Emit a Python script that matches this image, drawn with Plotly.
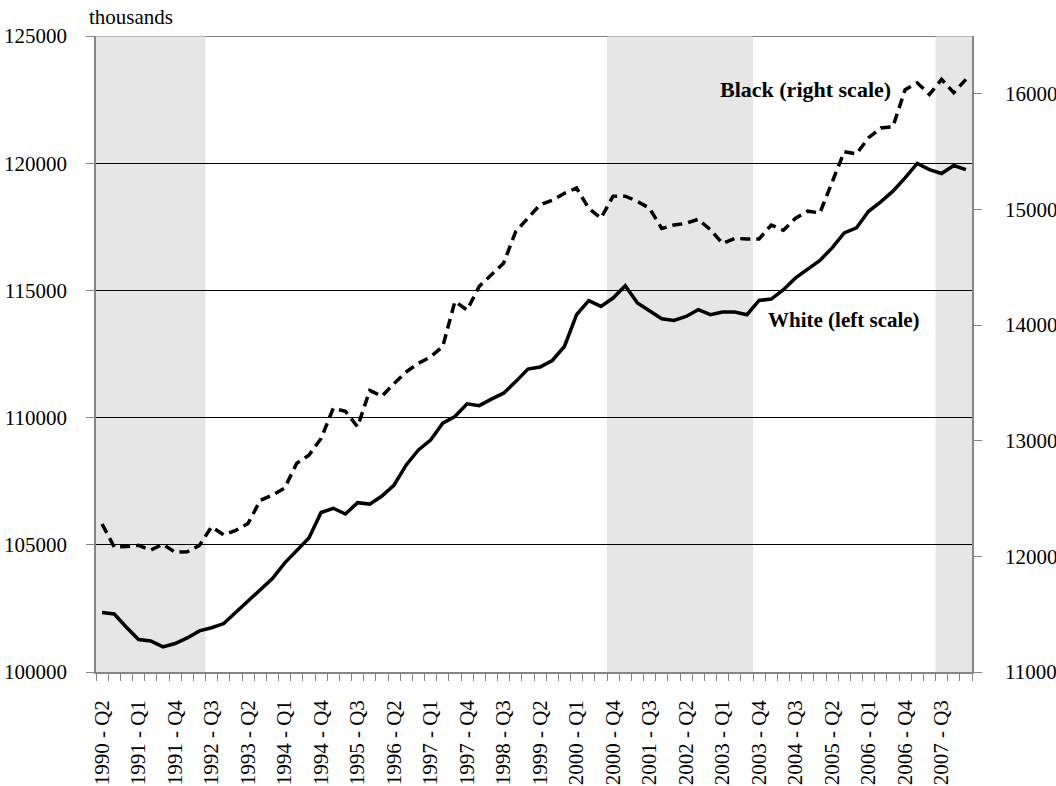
import plotly.graph_objects as go

categories = [
    "1990 - Q2", "1990 - Q3", "1990 - Q4", "1991 - Q1", "1991 - Q2", "1991 - Q3", "1991 - Q4",
    "1992 - Q1", "1992 - Q2", "1992 - Q3", "1992 - Q4", "1993 - Q1", "1993 - Q2", "1993 - Q3",
    "1993 - Q4", "1994 - Q1", "1994 - Q2", "1994 - Q3", "1994 - Q4", "1995 - Q1", "1995 - Q2",
    "1995 - Q3", "1995 - Q4", "1996 - Q1", "1996 - Q2", "1996 - Q3", "1996 - Q4", "1997 - Q1",
    "1997 - Q2", "1997 - Q3", "1997 - Q4", "1998 - Q1", "1998 - Q2", "1998 - Q3", "1998 - Q4",
    "1999 - Q1", "1999 - Q2", "1999 - Q3", "1999 - Q4", "2000 - Q1", "2000 - Q2", "2000 - Q3",
    "2000 - Q4", "2001 - Q1", "2001 - Q2", "2001 - Q3", "2001 - Q4", "2002 - Q1", "2002 - Q2",
    "2002 - Q3", "2002 - Q4", "2003 - Q1", "2003 - Q2", "2003 - Q3", "2003 - Q4", "2004 - Q1",
    "2004 - Q2", "2004 - Q3", "2004 - Q4", "2005 - Q1", "2005 - Q2", "2005 - Q3", "2005 - Q4",
    "2006 - Q1", "2006 - Q2", "2006 - Q3", "2006 - Q4", "2007 - Q1", "2007 - Q2", "2007 - Q3",
    "2007 - Q4", "2008 - Q1",
]

# White employment, thousands (left scale)
white = [
    102340, 102280, 101760, 101275, 101220, 100985, 101120, 101340, 101615, 101740,
    101905, 102350, 102790, 103235, 103675, 104280, 104750, 105265, 106270, 106435,
    106210, 106655, 106600, 106915, 107350, 108140, 108730, 109120, 109780, 110040,
    110540, 110470, 110725, 110960, 111415, 111905, 111985, 112245, 112795, 114045,
    114595, 114370, 114700, 115185, 114505, 114175, 113885, 113820, 113975, 114240,
    114045, 114150, 114150, 114045, 114605, 114660, 115025, 115490, 115815, 116180,
    116670, 117260, 117455, 118110, 118480, 118900, 119425, 119990, 119750, 119595,
    119910, 119750,
]

# Black employment, thousands (right scale)
black = [
    12280, 12080, 12085, 12095, 12055, 12105, 12035, 12040, 12095, 12255,
    12185, 12225, 12285, 12485, 12530, 12590, 12805, 12875, 13020, 13280,
    13255, 13120, 13435, 13385, 13495, 13595, 13670, 13725, 13815, 14205,
    14130, 14335, 14435, 14535, 14810, 14925, 15040, 15080, 15140, 15185,
    15010, 14925, 15115, 15115, 15070, 15010, 14835, 14865, 14880, 14915,
    14825, 14705, 14750, 14745, 14745, 14865, 14820, 14925, 14985, 14970,
    15240, 15500, 15480, 15620, 15705, 15715, 16035, 16095, 15995, 16125,
    16010, 16125,
]

# shaded periods (first and last shaded category)
shaded_periods = [("1990 - Q2", "1992 - Q2"), ("2000 - Q4", "2003 - Q3"), ("2007 - Q3", "2008 - Q1")]

left_ticks = [100000, 105000, 110000, 115000, 120000, 125000]
right_ticks = [11000, 12000, 13000, 14000, 15000, 16000]
right_range = [11000, 16500]
label_every = 3

FONT = "Liberation Serif"
AXIS_GREY = "#868686"

ticktext = [c if i % label_every == 0 else "" for i, c in enumerate(categories)]

fig = go.Figure()
fig.add_trace(go.Scatter(
    x=categories, y=white, mode="lines", name="White (left scale)",
    line=dict(color="black", width=3.5), yaxis="y",
))
fig.add_trace(go.Scatter(
    x=categories, y=black, mode="lines", name="Black (right scale)",
    line=dict(color="black", width=3.5, dash="10px,6px"), yaxis="y2",
))

shapes = []
for a, b in shaded_periods:
    ia = categories.index(a)
    ib = categories.index(b)
    shapes.append(dict(
        type="rect", xref="x", yref="paper", x0=ia - 0.5, x1=ib + 0.5, y0=0, y1=1,
        fillcolor="rgba(214,214,214,0.62)", line=dict(width=0), layer="between",
    ))
# top gridline (plotly omits the gridline at the range edge)
shapes.insert(0, dict(
    type="line", xref="paper", yref="y", x0=0, x1=1, y0=left_ticks[-1], y1=left_ticks[-1],
    line=dict(color="black", width=1), layer="below",
))

fig.update_layout(
    width=1056, height=786,
    margin=dict(l=96, r=84, t=36, b=114, autoexpand=False),
    paper_bgcolor="white", plot_bgcolor="white",
    showlegend=False,
    font=dict(family=FONT, size=21, color="black"),
    shapes=shapes,
    xaxis=dict(
        type="category", categoryorder="array", categoryarray=categories,
        range=[-0.5, len(categories) - 0.5], automargin=False,
        tickmode="array", tickvals=categories, ticktext=ticktext,
        tickangle=-90, tickson="boundaries", ticks="outside", ticklen=7,
        tickcolor=AXIS_GREY, showline=True, linecolor=AXIS_GREY, linewidth=1.5,
        showgrid=False, ticklabelstandoff=18,
        tickfont=dict(family=FONT, size=21, color="black"),
    ),
    yaxis=dict(
        range=[left_ticks[0], left_ticks[-1]], tickmode="array", tickvals=left_ticks,
        ticktext=[str(v) for v in left_ticks], automargin=False,
        ticks="outside", ticklen=8, tickcolor=AXIS_GREY,
        showline=True, linecolor=AXIS_GREY, linewidth=1.5,
        showgrid=True, gridcolor="black", gridwidth=1, zeroline=False,
        ticklabelstandoff=15,
        tickfont=dict(family=FONT, size=21, color="black"),
    ),
    yaxis2=dict(
        range=right_range, tickmode="array", tickvals=right_ticks,
        ticktext=[str(v) for v in right_ticks], automargin=False,
        overlaying="y", side="right",
        ticks="outside", ticklen=8, tickcolor=AXIS_GREY,
        showline=True, linecolor=AXIS_GREY, linewidth=1.5,
        showgrid=False, zeroline=False, ticklabelstandoff=19,
        tickfont=dict(family=FONT, size=21, color="black"),
    ),
    annotations=[
        dict(text="thousands", xref="paper", yref="paper", x=-0.0103, y=1.03,
             xanchor="left", yanchor="middle", showarrow=False,
             font=dict(family=FONT, size=21, color="black")),
        dict(text="<b>Black (right scale)</b>", xref="paper", yref="paper",
             x=(805 - 96) / 876, y=1 - (89 - 36) / 636,
             xanchor="center", yanchor="middle", showarrow=False,
             font=dict(family=FONT, size=22, color="black")),
        dict(text="<b>White (left scale)</b>", xref="paper", yref="paper",
             x=(844 - 96) / 876, y=1 - (320 - 36) / 636,
             xanchor="center", yanchor="middle", showarrow=False,
             font=dict(family=FONT, size=21, color="black")),
    ],
)

fig.write_html("out.html", config={"displayModeBar": False},
               post_script="document.body.style.margin='0';")
